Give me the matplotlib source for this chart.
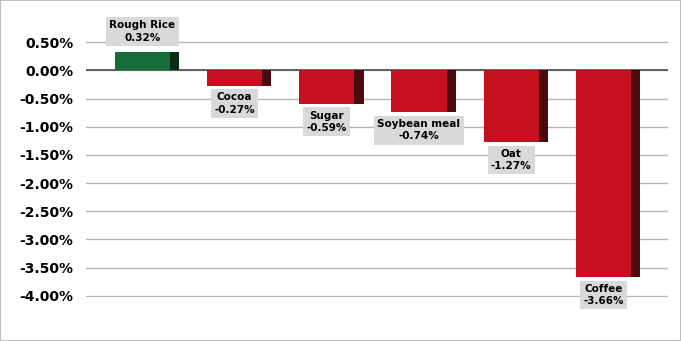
import matplotlib
matplotlib.use("Agg")
import matplotlib.pyplot as plt
from matplotlib.patches import Rectangle
from matplotlib.ticker import FuncFormatter, MultipleLocator

categories = ["Rough Rice", "Cocoa", "Sugar", "Soybean meal", "Oat", "Coffee"]
values = [0.32, -0.27, -0.59, -0.74, -1.27, -3.66]

fig = plt.figure(figsize=(6.81, 3.41), dpi=100)
fig.patch.set_facecolor("white")
fig.add_artist(Rectangle((0, 0), 1, 1, transform=fig.transFigure, fill=False,
                         edgecolor="#bfbfbf", linewidth=1.5))

ax = fig.add_axes([86/681, 1-297/341, (668-86)/681, (297-41)/341])
ax.set_ylim(-4.02, 0.52)
ax.set_xlim(-0.662, 5.651)
ax.set_yticks([0.5 - 0.5*k for k in range(10)])
ax.yaxis.set_major_formatter(FuncFormatter(lambda v, p: f"{v:.2f}%"))
ax.set_xticks([])
for s in ax.spines.values():
    s.set_visible(False)
ax.grid(axis="y", color="#b3b3b3", linewidth=1)
ax.set_axisbelow(True)
ax.tick_params(axis="y", length=0, pad=9)
for lab in ax.get_yticklabels():
    lab.set_fontweight("bold")
    lab.set_fontsize(10)
    lab.set_color("#000000")
ax.axhline(0, color="#595959", linewidth=1.3, zorder=1)

front_w = 0.6
side_w = 0.11
off = -0.05
for i, (c, v) in enumerate(zip(categories, values)):
    if v >= 0:
        fc, sc = "#176c39", "#0b2d18"
    else:
        fc, sc = "#c5101f", "#4a0a0f"
    x0 = i + off - front_w/2
    ax.bar(x0 + front_w - 0.02 + side_w/2, v, width=side_w + 0.02, color=sc, zorder=2)
    ax.bar(i + off, v, width=front_w, color=fc, zorder=3)
    if v >= 0:
        ax.annotate(f"{c}\n{v:.2f}%", (i + off, v), xytext=(0, 7), textcoords="offset points",
                    ha="center", va="bottom", fontsize=7.5, fontweight="bold",
                    linespacing=1.3,
                    bbox=dict(boxstyle="square,pad=0.3", fc="#d9d9d9", ec="none"), zorder=5)
    else:
        ax.annotate(f"{c}\n{v:.2f}%", (i + off, v), xytext=(0, -5), textcoords="offset points",
                    ha="center", va="top", fontsize=7.5, fontweight="bold",
                    linespacing=1.3,
                    bbox=dict(boxstyle="square,pad=0.3", fc="#d9d9d9", ec="none"), zorder=5)

fig.savefig("out.png", dpi=100)
